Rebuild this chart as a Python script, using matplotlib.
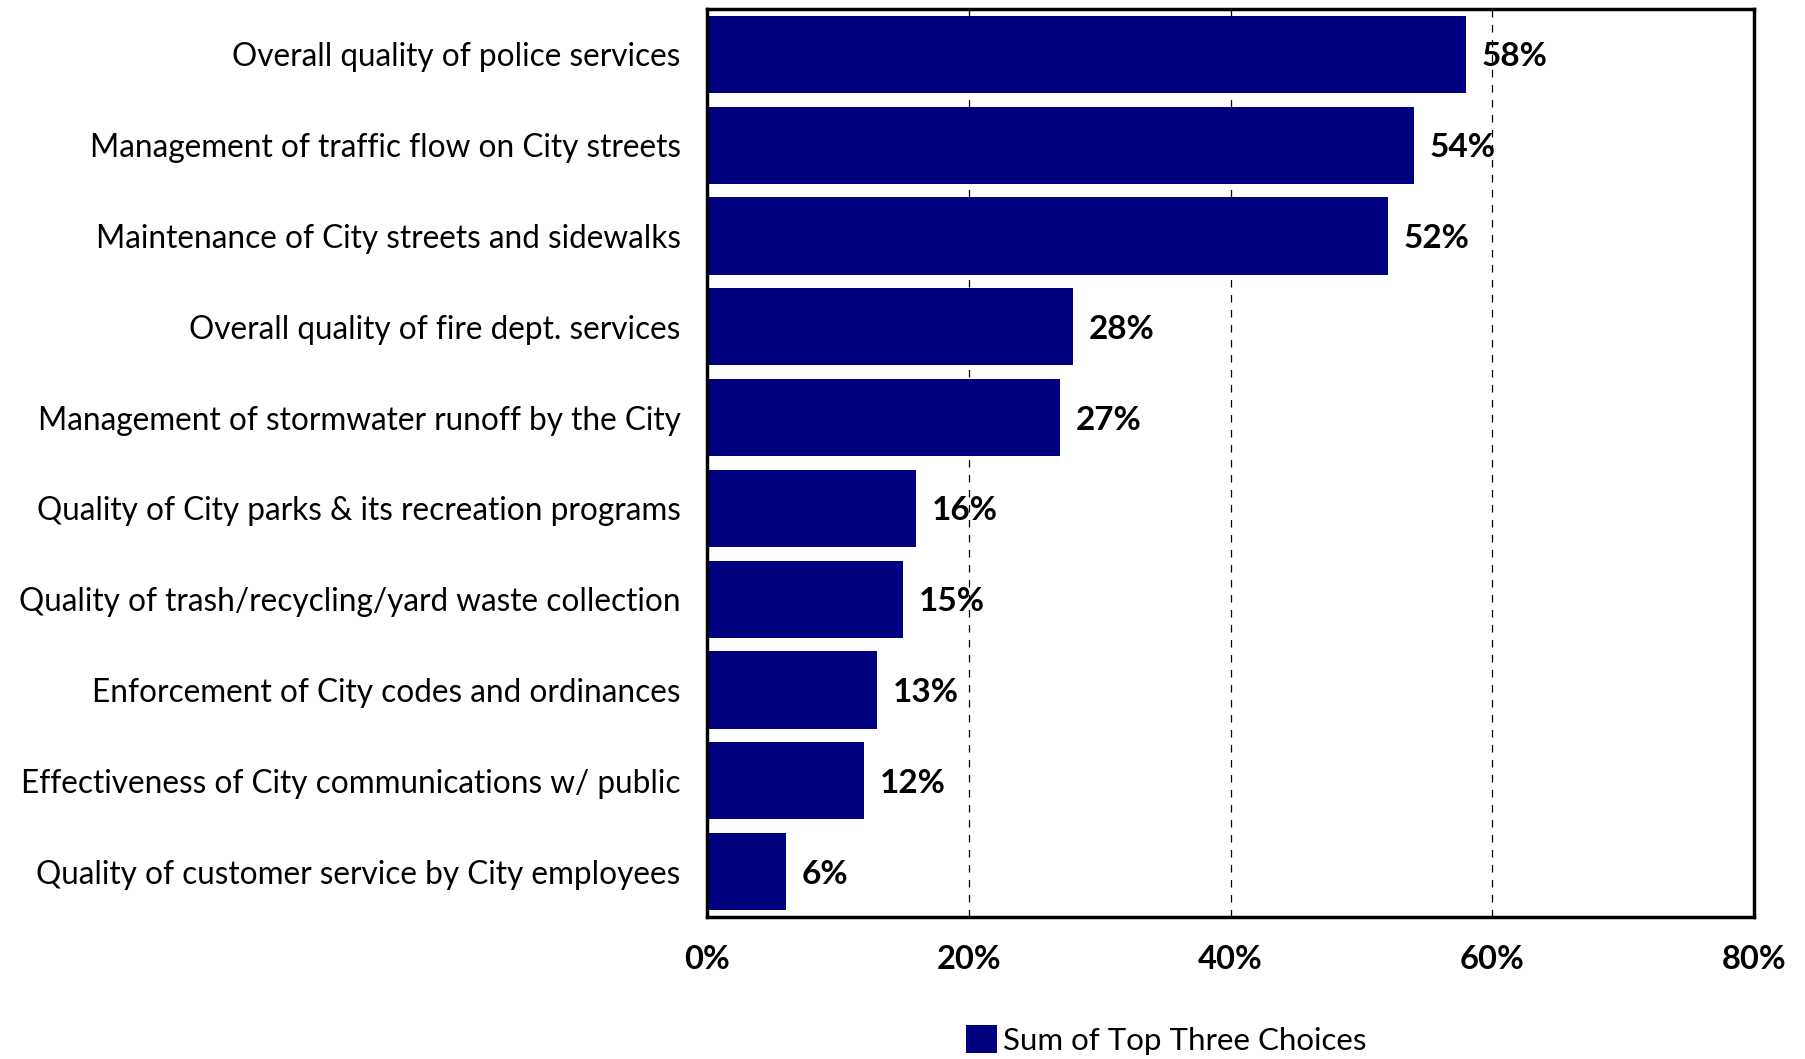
import matplotlib

matplotlib.use("Agg")
import matplotlib.pyplot as plt
from matplotlib.patches import Patch

plt.rcParams["font.family"] = ["Lato", "DejaVu Sans"]

categories = [
    "Overall quality of police services",
    "Management of traffic flow on City streets",
    "Maintenance of City streets and sidewalks",
    "Overall quality of fire dept. services",
    "Management of stormwater runoff by the City",
    "Quality of City parks & its recreation programs",
    "Quality of trash/recycling/yard waste collection",
    "Enforcement of City codes and ordinances",
    "Effectiveness of City communications w/ public",
    "Quality of customer service by City employees",
]
values = [58, 54, 52, 28, 27, 16, 15, 13, 12, 6]
x_ticks = [0, 20, 40, 60, 80]
series_name = "Sum of Top Three Choices"

bar_color = "#000080"

fig = plt.figure(figsize=(18.05, 10.59), dpi=100)
ax = fig.add_axes([707 / 1805, 1 - 917 / 1059, (1754 - 707) / 1805, (917 - 9) / 1059])

pos = list(range(len(categories)))
ax.barh(pos, values, height=0.85, color=bar_color, zorder=2)
for y, v in zip(pos, values):
    ax.text(v + 1.2, y, f"{v}%", va="center_baseline", ha="left",
            fontsize=24, fontweight="bold", color="black", zorder=3)

ax.set_xlim(0, 80)
ax.set_ylim(len(categories) - 0.5, -0.5)
ax.set_yticks(pos)
ax.set_yticklabels(categories, fontsize=22.7)
ax.set_xticks(x_ticks)
ax.set_xticklabels([f"{t}%" for t in x_ticks], fontsize=23.5, fontweight="bold")
ax.tick_params(axis="both", length=0)
ax.tick_params(axis="y", pad=19)
ax.tick_params(axis="x", pad=20)

for t in x_ticks[1:-1]:
    ax.axvline(t, color="black", linestyle=(0, (6, 6)), linewidth=0.9, zorder=1)

for side in ax.spines.values():
    side.set_linewidth(2.5)
    side.set_color("black")

handle = Patch(facecolor=bar_color, edgecolor="none")
fig.legend([handle], [series_name], loc="center", bbox_to_anchor=(1166 / 1805, 1 - 1040 / 1059),
           frameon=False, fontsize=22.5, handlelength=1.0, handleheight=1.0, handletextpad=0.2)

fig.savefig("out.png", dpi=100)
